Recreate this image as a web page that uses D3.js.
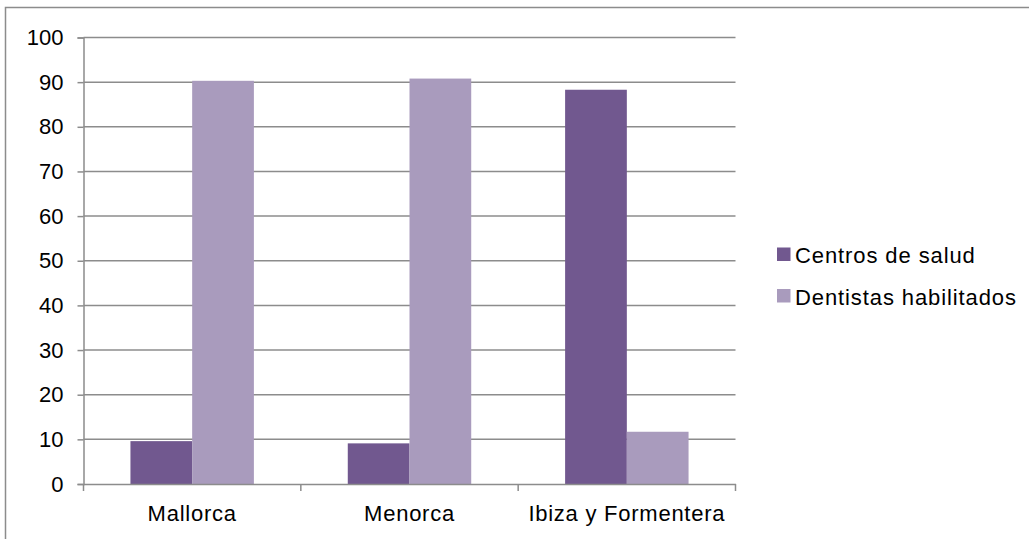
<!DOCTYPE html>
<html>
<head>
<meta charset="utf-8">
<script src="https://cdn.jsdelivr.net/npm/d3@7"></script>
<style>
  html, body { margin: 0; padding: 0; background: #fff; overflow: hidden; }
  svg { display: block; }
  text { font-family: "Liberation Sans", Arial, sans-serif; fill: #000; }
</style>
</head>
<body>
<svg id="chart" width="1029" height="539"></svg>
<script>
// Islands along the x axis
const categories = ["Mallorca", "Menorca", "Ibiza y Formentera"];
// Series names and their percentage values per island
const seriesNames = ["Centros de salud", "Dentistas habilitados"];
const centrosDeSalud = [9.6, 9.1, 88.3];
const dentistasHabilitados = [90.3, 90.8, 11.7];
// Y axis ticks
const yTicks = [0, 10, 20, 30, 40, 50, 60, 70, 80, 90, 100];
const colors = ["#71588f", "#a99bbd"];

const seriesValues = [centrosDeSalud, dentistasHabilitados];
const rows = categories.map((c, i) => ({
  category: c,
  values: seriesNames.map((s, j) => ({ series: s, value: seriesValues[j][i] }))
}));

const svg = d3.select("#chart");
const W = 1029, H = 539;
const FONT = "Liberation Sans, Arial, sans-serif";
const GRID = "#8c8c8c";

// outer frame (runs past the right and bottom edges)
svg.append("rect")
  .attr("x", 5.5).attr("y", 7.5)
  .attr("width", W + 20).attr("height", H + 20)
  .attr("fill", "none").attr("stroke", GRID).attr("stroke-width", 1.5);

const plot = { left: 83.5, right: 735.5, top: 37.5, bottom: 484 };

const y = d3.scaleLinear().domain([0, 100]).range([plot.bottom, plot.top]);
const x0 = d3.scaleBand().domain(categories).range([plot.left, plot.right]).padding(0);
const bw = x0.bandwidth();
const gap = bw * 0.216;
const x1 = d3.scaleBand().domain(seriesNames).range([gap, bw - gap]).padding(0);
const color = d3.scaleOrdinal().domain(seriesNames).range(colors);

// gridlines
svg.append("g")
  .selectAll("line")
  .data(yTicks.filter(t => t > 0))
  .join("line")
  .attr("x1", plot.left).attr("x2", plot.right)
  .attr("y1", d => y(d)).attr("y2", d => y(d))
  .attr("stroke", GRID).attr("stroke-width", 1.5);

// bars
svg.append("g")
  .selectAll("g")
  .data(rows)
  .join("g")
  .attr("transform", d => `translate(${x0(d.category)},0)`)
  .selectAll("rect")
  .data(d => d.values)
  .join("rect")
  .attr("x", d => x1(d.series))
  .attr("width", x1.bandwidth())
  .attr("y", d => y(d.value))
  .attr("height", d => y(0) - y(d.value))
  .attr("fill", d => color(d.series));

// y axis
const yAxis = d3.axisLeft(y).tickValues(yTicks).tickSize(6).tickPadding(14).tickFormat(d3.format("d"));
const gy = svg.append("g").attr("transform", `translate(${plot.left},0)`).call(yAxis);
gy.select(".domain").attr("stroke", GRID).attr("stroke-width", 1.5);
gy.selectAll(".tick line").attr("stroke", GRID).attr("stroke-width", 1.5);
gy.selectAll(".tick text").attr("font-size", 22).attr("font-family", FONT).attr("fill", "#000");

// x axis with ticks at the band edges
const xAxis = d3.axisBottom(x0).tickSize(0).tickPadding(21);
const gx = svg.append("g").attr("transform", `translate(0,${plot.bottom})`).call(xAxis);
gx.select(".domain").attr("stroke", GRID).attr("stroke-width", 1.5);
gx.selectAll(".tick text").attr("font-size", 22).attr("letter-spacing", "0.75px")
  .attr("font-family", FONT).attr("fill", "#000");
gx.append("g").selectAll("line")
  .data(categories.map(c => x0(c)).concat([plot.right]))
  .join("line")
  .attr("x1", d => d).attr("x2", d => d)
  .attr("y1", 0).attr("y2", 7)
  .attr("stroke", GRID).attr("stroke-width", 1.5);

// legend
const legend = svg.append("g").attr("transform", "translate(777,246)");
const li = legend.selectAll("g").data(seriesNames).join("g")
  .attr("transform", (d, i) => `translate(0,${i * 41.5})`);
li.append("rect").attr("x", 0).attr("y", 1.5).attr("width", 13.5).attr("height", 13.5)
  .attr("fill", d => color(d));
li.append("text").attr("x", 18).attr("y", 17).attr("font-size", 22)
  .attr("letter-spacing", "0.9px").text(d => d);
</script>
</body>
</html>
